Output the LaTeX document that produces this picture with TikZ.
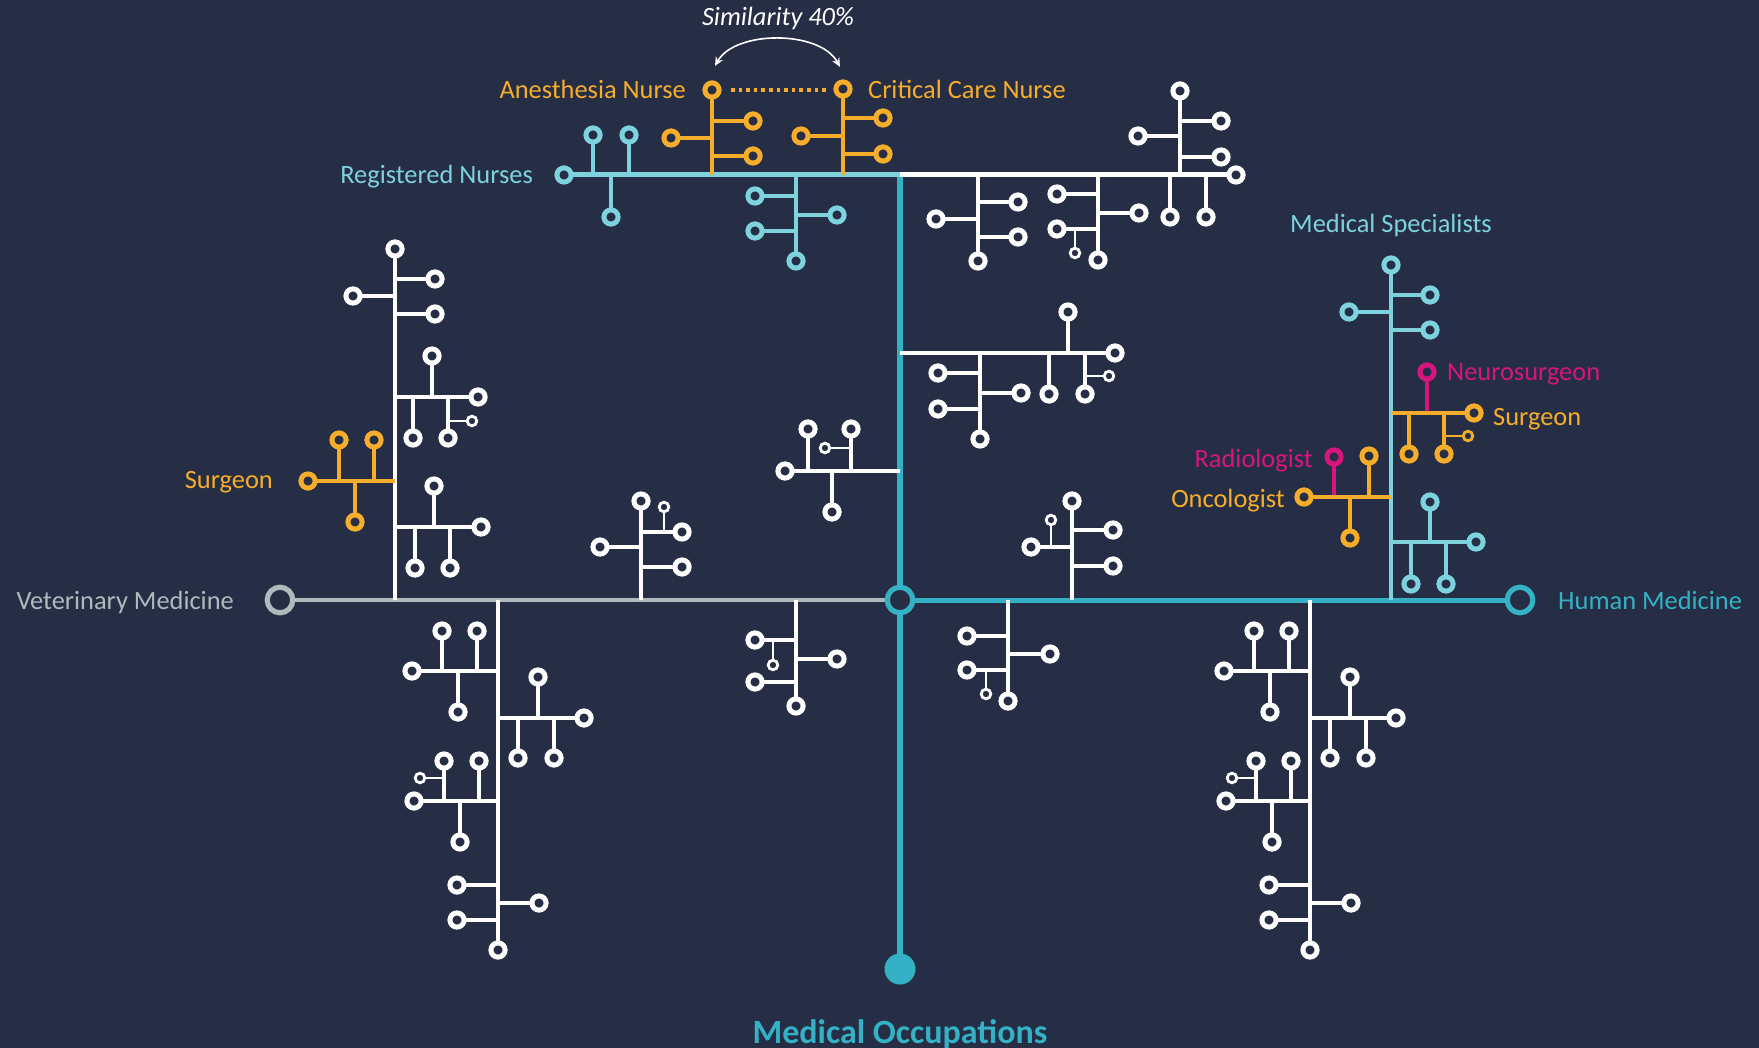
\documentclass[tikz,border=0pt]{standalone}
\usepackage{fontspec}
\setmainfont{Carlito}
\usetikzlibrary{arrows.meta}
\definecolor{bg}{HTML}{252E45}
\definecolor{lt}{HTML}{7ED2DE}
\definecolor{tl}{HTML}{35B1C5}
\definecolor{org}{HTML}{F6AD2B}
\definecolor{mg}{HTML}{D6167D}
\definecolor{gy}{HTML}{B0B9BD}
\tikzset{
  ln/.style={line width=4.8pt},
  ring/.style={line width=5pt, fill=bg},
  tln/.style={line width=2.6pt},
  tring/.style={line width=2.8pt, fill=bg},
  lbl/.style={inner sep=0pt, font=\fontsize{26.4}{30}\selectfont},
}
% stem + ring
\newcommand\lf[3]{\draw[ln,draw=#1] #2 -- #3; \draw[ring,draw=#1] #3 circle[radius=7.1pt];}
% thin stem + tiny ring
\newcommand\tn[3]{\draw[tln,draw=#1] #2 -- #3; \draw[tring,draw=#1] #3 circle[radius=4.8pt];}
\newcommand\bottree{%
  \lf{white}{(498,600)}{(498,950)}
  \lf{white}{(498,671)}{(412,671)}
  \lf{white}{(442,671)}{(442,631)}
  \lf{white}{(477,671)}{(477,631)}
  \lf{white}{(458,671)}{(458,712)}
  \lf{white}{(498,718)}{(584,718)}
  \lf{white}{(538,718)}{(538,677)}
  \lf{white}{(518,718)}{(518,758)}
  \lf{white}{(554,718)}{(554,758)}
  \lf{white}{(498,801)}{(414,801)}
  \lf{white}{(444,801)}{(444,761)}
  \lf{white}{(479,801)}{(479,761)}
  \tn{white}{(444,778)}{(420,778)}
  \lf{white}{(460,801)}{(460,842)}
  \lf{white}{(498,885)}{(457,885)}
  \lf{white}{(498,920)}{(457,920)}
  \lf{white}{(498,903)}{(539,903)}
}
\begin{document}
\begin{tikzpicture}[x=1pt,y=-1pt]
\fill[bg] (0,0) rectangle (1759,1048);
\useasboundingbox (0,0) rectangle (1759,1048);

% ---------- main axes ----------
\draw[line width=4.6pt, gy] (280,600) -- (900,600);
\draw[line width=5pt, tl] (900,600) -- (1520,600);
\draw[line width=5.2pt, tl] (900,172.5) -- (900,969);
\draw[line width=5pt, lt] (564,175) -- (900,175);
\draw[line width=5pt, white] (900,175) -- (1236,175);

% ---------- Registered nurses (light teal) ----------
\lf{lt}{(593,175)}{(593,135)}
\lf{lt}{(629,175)}{(629,135)}
\lf{lt}{(611,175)}{(611,217)}
\lf{lt}{(796,175)}{(796,261)}
\lf{lt}{(796,196)}{(755,196)}
\lf{lt}{(796,231)}{(755,231)}
\lf{lt}{(796,215)}{(837,215)}
\draw[ring,draw=lt] (564,175) circle[radius=7.1pt];

% Anesthesia nurse
\lf{org}{(712,175)}{(712,90)}
\lf{org}{(712,121)}{(753,121)}
\lf{org}{(712,156)}{(753,156)}
\lf{org}{(712,138)}{(671,138)}
% Critical care nurse
\lf{org}{(843,175)}{(843,89)}
\lf{org}{(843,118)}{(883,118)}
\lf{org}{(843,154)}{(883,154)}
\lf{org}{(843,136)}{(801,136)}
\draw[org, line width=4pt, dash pattern=on 3.6pt off 4pt] (731,90) -- (826,90);

% similarity arrow
\draw[white, line width=1.6pt, {Stealth[length=9pt,width=8pt,inset=3pt]}-{Stealth[length=9pt,width=8pt,inset=3pt]}]
  (715,66) .. controls (735,30) and (820,30) .. (840,67);
\node[lbl, white, font=\fontsize{26.4}{30}\selectfont\itshape] (sim) at (778,18) {Similarity 40\%};

% ---------- top right white ----------
\draw[ring,draw=white] (1236,175) circle[radius=7.1pt];
\lf{white}{(1180,175)}{(1180,91)}
\lf{white}{(1180,121)}{(1221,121)}
\lf{white}{(1180,157)}{(1221,157)}
\lf{white}{(1180,136)}{(1138,136)}
\lf{white}{(1170,175)}{(1170,217)}
\lf{white}{(1206,175)}{(1206,217)}
% tree A
\lf{white}{(978,175)}{(978,261)}
\lf{white}{(978,202)}{(1018,202)}
\lf{white}{(978,237)}{(1018,237)}
\lf{white}{(978,219)}{(936,219)}
% tree B
\lf{white}{(1098,175)}{(1098,260)}
\lf{white}{(1098,194)}{(1057,194)}
\lf{white}{(1098,229)}{(1057,229)}
\lf{white}{(1098,213)}{(1139,213)}
\tn{white}{(1075,229)}{(1075,253)}

% ---------- left tree ----------
\lf{white}{(395,600)}{(395,249)}
\lf{white}{(395,279)}{(435,279)}
\lf{white}{(395,314)}{(435,314)}
\lf{white}{(395,296)}{(353,296)}
\lf{white}{(395,397)}{(478,397)}
\lf{white}{(432,397)}{(432,356)}
\lf{white}{(413,397)}{(413,438)}
\lf{white}{(448,397)}{(448,438)}
\tn{white}{(448,421)}{(472,421)}
\lf{org}{(395,481)}{(308,481)}
\lf{org}{(339,481)}{(339,440)}
\lf{org}{(374,481)}{(374,440)}
\lf{org}{(355,481)}{(355,522)}
\lf{white}{(395,527)}{(481,527)}
\lf{white}{(434,527)}{(434,486)}
\lf{white}{(415,527)}{(415,568)}
\lf{white}{(450,527)}{(450,568)}

% ---------- tree C (on teal vertical) ----------
\lf{white}{(900,471)}{(785,471)}
\lf{white}{(808,471)}{(808,429)}
\lf{white}{(851,471)}{(851,429)}
\tn{white}{(851,448)}{(825,448)}
\lf{white}{(832,471)}{(832,512)}

% ---------- tree D ----------
\lf{white}{(641,600)}{(641,501)}
\lf{white}{(641,532)}{(682,532)}
\lf{white}{(641,567)}{(682,567)}
\lf{white}{(641,547)}{(600,547)}
\tn{white}{(664,532)}{(664,507)}

% ---------- tree E ----------
\lf{white}{(900,353)}{(1115,353)}
\lf{white}{(1068,353)}{(1068,312)}
\lf{white}{(1049,353)}{(1049,394)}
\lf{white}{(1085,353)}{(1085,394)}
\tn{white}{(1085,376)}{(1109,376)}
\lf{white}{(980,353)}{(980,439)}
\lf{white}{(980,373)}{(938,373)}
\lf{white}{(980,409)}{(938,409)}
\lf{white}{(980,393)}{(1021,393)}

% ---------- tree F ----------
\lf{white}{(1072,600)}{(1072,501)}
\lf{white}{(1072,530)}{(1113,530)}
\lf{white}{(1072,566)}{(1113,566)}
\lf{white}{(1072,547)}{(1031,547)}
\tn{white}{(1051,547)}{(1051,520)}

% ---------- Medical specialists ----------
\lf{lt}{(1391,600)}{(1391,265)}
\lf{lt}{(1391,295)}{(1430,295)}
\lf{lt}{(1391,330)}{(1430,330)}
\lf{lt}{(1391,312)}{(1349,312)}
\lf{mg}{(1427,413)}{(1427,372)}
\lf{org}{(1391,413)}{(1474,413)}
\lf{org}{(1409,413)}{(1409,454)}
\lf{org}{(1444,413)}{(1444,454)}
\tn{org}{(1444,436)}{(1468,436)}
\lf{mg}{(1334,497)}{(1334,457)}
\lf{org}{(1391,497)}{(1304,497)}
\lf{org}{(1369,497)}{(1369,456)}
\lf{org}{(1350,497)}{(1350,538)}
\lf{lt}{(1391,542)}{(1476,542)}
\lf{lt}{(1430,542)}{(1430,502)}
\lf{lt}{(1411,542)}{(1411,584)}
\lf{lt}{(1446,542)}{(1446,584)}

% ---------- tree G ----------
\lf{white}{(796,600)}{(796,706)}
\lf{white}{(796,640)}{(755,640)}
\lf{white}{(796,682)}{(755,682)}
\lf{white}{(796,659)}{(837,659)}
\tn{white}{(773,640)}{(773,665)}

% ---------- tree H ----------
\lf{white}{(1008,600)}{(1008,701)}
\lf{white}{(1008,636)}{(967,636)}
\lf{white}{(1008,670)}{(967,670)}
\lf{white}{(1008,654)}{(1050,654)}
\tn{white}{(986,670)}{(986,694)}

% ---------- bottom trees ----------
\bottree
\begin{scope}[xshift=812pt]\bottree\end{scope}

% ---------- main circles ----------
\draw[line width=5.2pt, draw=gy, fill=bg] (280,600) circle[radius=12.8pt];
\draw[line width=5.2pt, draw=tl, fill=bg] (900,600) circle[radius=12.8pt];
\draw[line width=5.2pt, draw=tl, fill=bg] (1520,600) circle[radius=12.8pt];
\fill[tl] (900,969) circle[radius=15.5pt];

% ---------- labels ----------
\node[lbl, gy, anchor=base east] (vet) at (234,609) {Veterinary Medicine};
\node[lbl, tl, anchor=base west] (hum) at (1558,609) {Human Medicine};
\node[lbl, lt, anchor=base east] (rn) at (533,184) {Registered Nurses};
\node[lbl, org, anchor=base east] (an) at (686,99) {Anesthesia Nurse};
\node[lbl, org, anchor=base west] (cc) at (868,99) {Critical Care Nurse};
\node[lbl, org, anchor=base east] (surgL) at (273,488) {Surgeon};
\node[lbl, lt, anchor=base] (ms) at (1391,233) {Medical Specialists};
\node[lbl, mg, anchor=base west] (neuro) at (1447,381) {Neurosurgeon};
\node[lbl, org, anchor=base west] (surgR) at (1493,425) {Surgeon};
\node[lbl, mg, anchor=base east] (rad) at (1313,467) {Radiologist};
\node[lbl, org, anchor=base east] (onc) at (1285,507) {Oncologist};
\node[inner sep=0pt, tl, font=\fontsize{34}{40}\selectfont\bfseries, anchor=base] (title) at (900,1043) {Medical Occupations};
\end{tikzpicture}
\end{document}
